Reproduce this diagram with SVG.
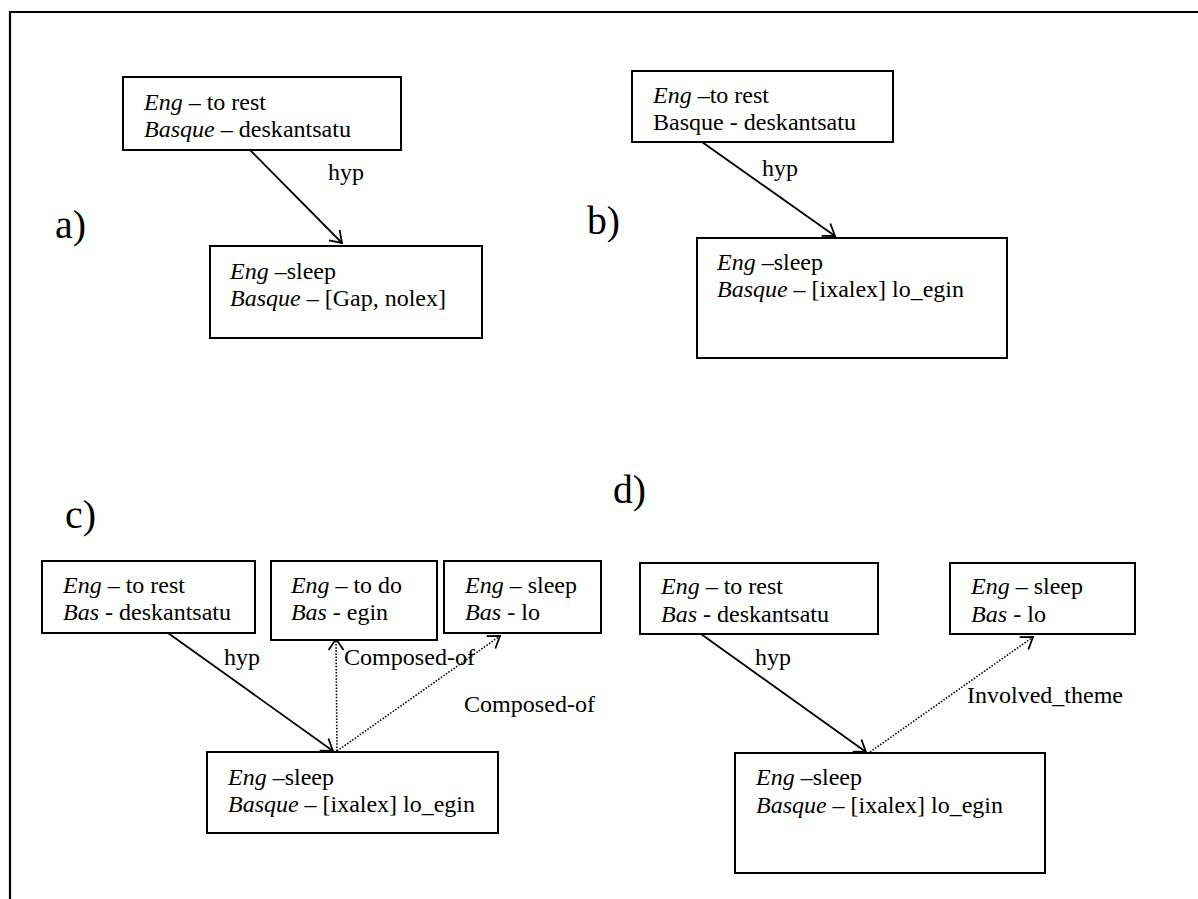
<svg xmlns="http://www.w3.org/2000/svg" width="1198" height="899" viewBox="0 0 1198 899">
<style>
text{font-family:'Liberation Serif','Times New Roman',Times,serif;font-size:24px;fill:#000}
.lab{font-size:40px}
.i{font-style:italic}
.box{fill:#fff;stroke:#000;stroke-width:2}
.solid{stroke:#000;stroke-width:1.8;fill:none}
.dot{stroke:#000;stroke-width:1.6;fill:none;stroke-dasharray:1.5 1.6}
</style>
<defs>
<marker id="ah" viewBox="-14 -10 16 20" refX="0" refY="0" markerWidth="16" markerHeight="20" markerUnits="userSpaceOnUse" orient="auto">
<path d="M-11,-7.5 L0,0 L-11,7.5" fill="none" stroke="#000" stroke-width="1.8"/>
</marker>
</defs>
<rect width="1198" height="899" fill="#fff"/>
<path d="M10,899 V12 H1198" fill="none" stroke="#000" stroke-width="2.2"/>
<g id="labels">
<text class="lab" x="55" y="238" textLength="31" lengthAdjust="spacingAndGlyphs">a)</text>
<text class="lab" x="587" y="234" textLength="33" lengthAdjust="spacingAndGlyphs">b)</text>
<text class="lab" x="65" y="528" textLength="31" lengthAdjust="spacingAndGlyphs">c)</text>
<text class="lab" x="613" y="503" textLength="33" lengthAdjust="spacingAndGlyphs">d)</text>
</g>
<g id="connectors">
<line class="solid" x1="250" y1="150" x2="342" y2="243" marker-end="url(#ah)"/>
<text x="328" y="180" textLength="36" lengthAdjust="spacingAndGlyphs">hyp</text>
<line class="solid" x1="702" y1="142" x2="835" y2="236" marker-end="url(#ah)"/>
<text x="762" y="176" textLength="36" lengthAdjust="spacingAndGlyphs">hyp</text>
<line class="solid" x1="168" y1="633" x2="333" y2="751" marker-end="url(#ah)"/>
<text x="224" y="665" textLength="36" lengthAdjust="spacingAndGlyphs">hyp</text>
<line class="dot" x1="337" y1="751" x2="336" y2="639" marker-end="url(#ah)"/>
<text x="344" y="665" textLength="131" lengthAdjust="spacingAndGlyphs">Composed-of</text>
<line class="dot" x1="337" y1="751" x2="500" y2="636" marker-end="url(#ah)"/>
<text x="464" y="712" textLength="131" lengthAdjust="spacingAndGlyphs">Composed-of</text>
<line class="solid" x1="701" y1="634" x2="866" y2="752" marker-end="url(#ah)"/>
<text x="755" y="665" textLength="36" lengthAdjust="spacingAndGlyphs">hyp</text>
<line class="dot" x1="870" y1="752" x2="1033" y2="637" marker-end="url(#ah)"/>
<text x="967" y="703" textLength="156" lengthAdjust="spacingAndGlyphs">Involved_theme</text>
</g>
<g id="a-top">
<rect class="box" x="123" y="77" width="278" height="73"/>
<text x="144" y="110" textLength="122" lengthAdjust="spacingAndGlyphs"><tspan class="i">Eng</tspan> – to rest</text>
<text x="144" y="137" textLength="207" lengthAdjust="spacingAndGlyphs"><tspan class="i">Basque</tspan> – deskantsatu</text>
</g>
<g id="a-bottom">
<rect class="box" x="210" y="246" width="272" height="92"/>
<text x="230" y="279" textLength="106" lengthAdjust="spacingAndGlyphs"><tspan class="i">Eng</tspan> –sleep</text>
<text x="230" y="306" textLength="216" lengthAdjust="spacingAndGlyphs"><tspan class="i">Basque</tspan> – [Gap, nolex]</text>
</g>
<g id="b-top">
<rect class="box" x="632" y="71" width="261" height="71"/>
<text x="653" y="103" textLength="116" lengthAdjust="spacingAndGlyphs"><tspan class="i">Eng</tspan> –to rest</text>
<text x="653" y="130" textLength="203" lengthAdjust="spacingAndGlyphs">Basque - deskantsatu</text>
</g>
<g id="b-bottom">
<rect class="box" x="697" y="238" width="310" height="120"/>
<text x="717" y="270" textLength="106" lengthAdjust="spacingAndGlyphs"><tspan class="i">Eng</tspan> –sleep</text>
<text x="717" y="297" textLength="247" lengthAdjust="spacingAndGlyphs"><tspan class="i">Basque</tspan> – [ixalex] lo_egin</text>
</g>
<g id="c-rest">
<rect class="box" x="42" y="561" width="213" height="72"/>
<text x="63" y="593" textLength="122" lengthAdjust="spacingAndGlyphs"><tspan class="i">Eng</tspan> – to rest</text>
<text x="63" y="620" textLength="168" lengthAdjust="spacingAndGlyphs"><tspan class="i">Bas</tspan> - deskantsatu</text>
</g>
<g id="c-do">
<rect class="box" x="271" y="561" width="166" height="79"/>
<text x="291" y="593" textLength="111" lengthAdjust="spacingAndGlyphs"><tspan class="i">Eng</tspan> – to do</text>
<text x="291" y="620" textLength="97" lengthAdjust="spacingAndGlyphs"><tspan class="i">Bas</tspan> - egin</text>
</g>
<g id="c-lo">
<rect class="box" x="444" y="561" width="157" height="72"/>
<text x="465" y="593" textLength="112" lengthAdjust="spacingAndGlyphs"><tspan class="i">Eng</tspan> – sleep</text>
<text x="465" y="620" textLength="75" lengthAdjust="spacingAndGlyphs"><tspan class="i">Bas</tspan> - lo</text>
</g>
<g id="c-bottom">
<rect class="box" x="207" y="752" width="291" height="81"/>
<text x="228" y="785" textLength="106" lengthAdjust="spacingAndGlyphs"><tspan class="i">Eng</tspan> –sleep</text>
<text x="228" y="812" textLength="247" lengthAdjust="spacingAndGlyphs"><tspan class="i">Basque</tspan> – [ixalex] lo_egin</text>
</g>
<g id="d-rest">
<rect class="box" x="640" y="563" width="238" height="71"/>
<text x="661" y="594" textLength="122" lengthAdjust="spacingAndGlyphs"><tspan class="i">Eng</tspan> – to rest</text>
<text x="661" y="622" textLength="168" lengthAdjust="spacingAndGlyphs"><tspan class="i">Bas</tspan> - deskantsatu</text>
</g>
<g id="d-lo">
<rect class="box" x="950" y="563" width="185" height="71"/>
<text x="971" y="594" textLength="112" lengthAdjust="spacingAndGlyphs"><tspan class="i">Eng</tspan> – sleep</text>
<text x="971" y="622" textLength="75" lengthAdjust="spacingAndGlyphs"><tspan class="i">Bas</tspan> - lo</text>
</g>
<g id="d-bottom">
<rect class="box" x="735" y="753" width="310" height="120"/>
<text x="756" y="785" textLength="106" lengthAdjust="spacingAndGlyphs"><tspan class="i">Eng</tspan> –sleep</text>
<text x="756" y="813" textLength="247" lengthAdjust="spacingAndGlyphs"><tspan class="i">Basque</tspan> – [ixalex] lo_egin</text>
</g>
</svg>
